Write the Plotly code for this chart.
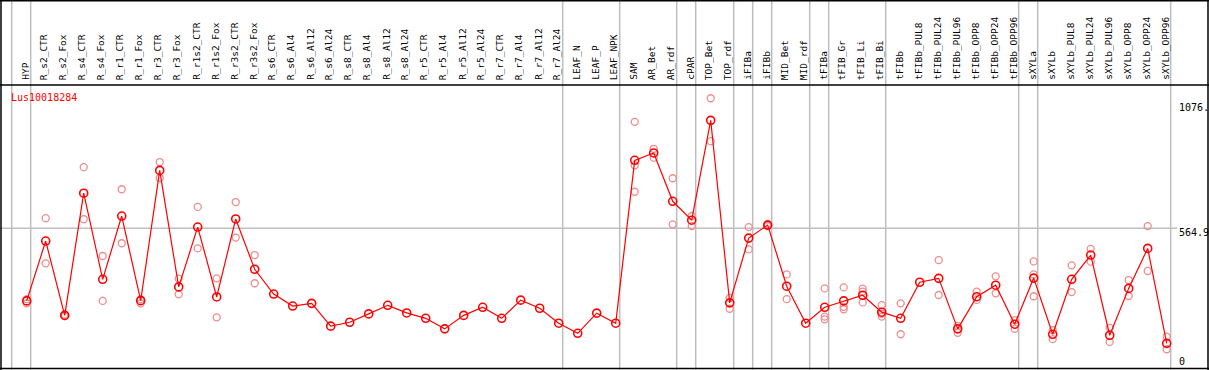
import plotly.graph_objects as go

categories = ["HYP", "R_s2_CTR", "R_s2_Fox", "R_s4_CTR", "R_s4_Fox", "R_r1_CTR", "R_r1_Fox",
              "R_r3_CTR", "R_r3_Fox", "R_r1s2_CTR", "R_r1s2_Fox", "R_r3s2_CTR", "R_r3s2_Fox",
              "R_s6_CTR", "R_s6_Al4", "R_s6_Al12", "R_s6_Al24", "R_s8_CTR", "R_s8_Al4", "R_s8_Al12",
              "R_s8_Al24", "R_r5_CTR", "R_r5_Al4", "R_r5_Al12", "R_r5_Al24", "R_r7_CTR", "R_r7_Al4",
              "R_r7_Al12", "R_r7_Al24", "LEAF_N", "LEAF_P", "LEAF_NPK", "SAM", "AR_Bet", "AR_rdf",
              "cPAR", "TOP_Bet", "TOP_rdf", "iFIBa", "iFIBb", "MID_Bet", "MID_rdf", "tFIBa",
              "tFIB_Gr", "tFIB_Li", "tFIB_Bi", "tFIBb", "tFIBb_PUL8", "tFIBb_PUL24", "tFIBb_PUL96",
              "tFIBb_OPP8", "tFIBb_OPP24", "tFIBb_OPP96", "sXYLa", "sXYLb", "sXYLb_PUL8",
              "sXYLb_PUL24", "sXYLb_PUL96", "sXYLb_OPP8", "sXYLb_OPP24", "sXYLb_OPP96"]

mean_values = [269, 513, 210, 708, 357, 615, 270, 801, 326, 570, 285, 603, 398,
               297, 248, 259, 166, 182, 216, 251, 220, 198, 155, 210, 243, 198, 272,
               239, 178, 137, 219, 178, 842, 872, 675, 598, 1005, 261, 525, 578, 329,
               178, 243, 269, 292, 223, 198, 345, 361, 155, 286, 333, 174, 362, 133,
               357, 456, 129, 320, 483, 96]

rep_a = [276, 606, 214, 814, 452, 724, 276, 835, 360, 652, 361, 672, 456,
         None, None, None, None, None, None, None, None, None, None, None, None,
         None, None, None, None, None, None, None,
         999, 889, 769, 615, 1095, 281, 570, 582, 377, None, 320, 324, 319, 252,
         259, None, 435, 167, 307, 369, 191, 430, 150, 414, 481, 159, 354, 574, 123]

rep_b = [259, 422, 207, 602, 269, 504, 259, 770, 296, 483, 202, 527, 341,
         None, None, None, None, None, None, None, None, None, None, None, None,
         None, None, None, None, None, None, None,
         822, 853, 581, 574, 920, 237, 479, 574, 276, None, 205, 245, 307, 216,
         133, None, 293, 139, 273, 300, 155, 377, 113, 305, 429, 102, 289, 391, 72]

rep_c = [None] * 32 + [714] + [None] * 9 + [194, 235, 263, 205] + [None] * 7 + [288] + [None] * 7

tick_values = [0, 564.9, 1076]
tick_labels = ["0", "564.9", "1076."]
group_ends = [-1, 0, 28, 31, 34, 35, 37, 38, 39, 41, 42, 45, 52, 53, 60]
gene_name = "Lus10018284"

W, H = 1209, 370
x_idx = list(range(len(categories)))

# pixel mapping helpers (layout only)
px_per_cat = 19.0
x0_px = 26.7
x_range = [(0 - x0_px) / px_per_cat, (W - x0_px) / px_per_cat]
units_per_px = 4.076
zero_px = 366.9
y_range = [(zero_px - H) * units_per_px, zero_px * units_per_px]

def py(pix):
    return 1 - pix / H

def pxx(pix):
    return pix / W

fig = go.Figure()
rep_color = "rgb(240,140,140)"
for reps in (rep_a, rep_b, rep_c):
    fig.add_trace(go.Scatter(
        x=x_idx, y=reps, mode="markers",
        marker=dict(symbol="circle-open", size=7, color=rep_color, line=dict(width=1.3, color=rep_color)),
        showlegend=False, hoverinfo="skip"))

fig.add_trace(go.Scatter(
    x=x_idx, y=mean_values, mode="lines+markers",
    line=dict(color="#ff0000", width=1.2),
    marker=dict(symbol="circle-open", size=8, color="#ff0000", line=dict(width=1.6, color="#ff0000")),
    showlegend=False))

shapes = []
gray = "rgb(190,190,190)"
for g in group_ends:
    shapes.append(dict(type="line", xref="x", yref="paper", x0=g + 0.21, x1=g + 0.21,
                       y0=0, y1=1, line=dict(color=gray, width=1.5), layer="below"))
shapes.append(dict(type="line", xref="paper", yref="y", x0=0, x1=pxx(1177),
                   y0=tick_values[1], y1=tick_values[1], line=dict(color=gray, width=1.5), layer="below"))
black = "black"
for yy in (0.75, 85, 368.5):
    shapes.append(dict(type="line", xref="paper", yref="paper", x0=0, x1=1,
                       y0=py(yy), y1=py(yy), line=dict(color=black, width=1.5)))
for xx in (1, 1208):
    shapes.append(dict(type="line", xref="paper", yref="paper", x0=pxx(xx), x1=pxx(xx),
                       y0=0, y1=1, line=dict(color=black, width=1.5)))

mono = "DejaVu Sans Mono"
annotations = []
for i, c in enumerate(categories):
    annotations.append(dict(x=i, y=py(82), xref="x", yref="paper", text=c, textangle=-90,
                            showarrow=False, xanchor="center", yanchor="bottom", xshift=-1.5,
                            font=dict(family=mono, size=9.5, color="black")))
annotations.append(dict(x=pxx(9), y=py(97), xref="paper", yref="paper", text=gene_name,
                        showarrow=False, xanchor="left", yanchor="middle",
                        font=dict(family=mono, size=10, color="#ff0000")))
label_px = [361.7, 232.7, 107.3]
for lab, ypx in zip(tick_labels, label_px):
    annotations.append(dict(x=pxx(1177), y=py(ypx), xref="paper", yref="paper", text=lab,
                            showarrow=False, xanchor="left", yanchor="middle",
                            font=dict(family=mono, size=10, color="black")))

fig.update_layout(
    width=W, height=H, margin=dict(l=0, r=0, t=0, b=0),
    paper_bgcolor="white", plot_bgcolor="white",
    xaxis=dict(range=x_range, visible=False, domain=[0, 1]),
    yaxis=dict(range=y_range, visible=False, domain=[0, 1]),
    shapes=shapes, annotations=annotations,
)

fig.write_html("out.html", config={"displayModeBar": False},
               post_script="document.body.style.margin='0';document.body.style.overflow='hidden';")
